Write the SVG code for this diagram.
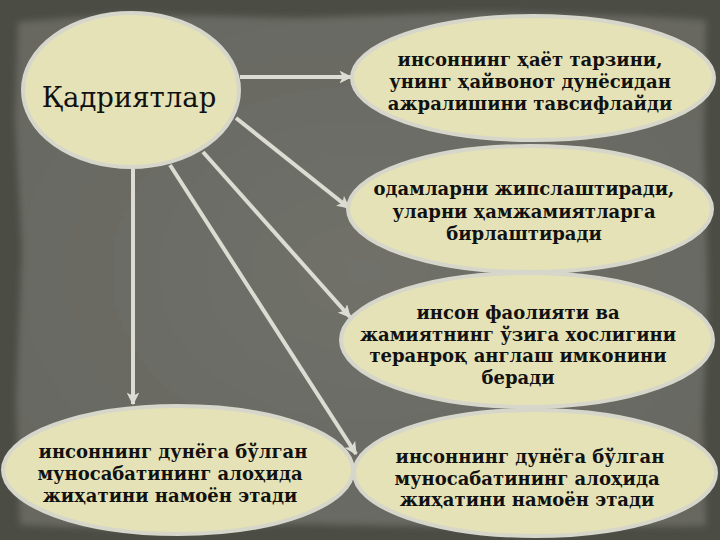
<svg xmlns="http://www.w3.org/2000/svg" width="720" height="540" viewBox="0 0 720 540">
  <defs>
    <filter id="soft" x="-5%" y="-5%" width="110%" height="110%">
      <feGaussianBlur stdDeviation="3"/>
    </filter>
    <radialGradient id="panel" cx="50%" cy="50%" r="60%">
      <stop offset="0" stop-color="#70716a"/>
      <stop offset="1" stop-color="#676861"/>
    </radialGradient>
    <marker id="arr" viewBox="0 0 10 10" refX="9" refY="5" markerWidth="3.2" markerHeight="3.2" orient="auto" markerUnits="strokeWidth">
      <path d="M0,0 L10,5 L0,10 L2.5,5 Z" fill="#dcdcd2"/>
    </marker>
    <style>
      .node ellipse { fill: #e4e2b6; stroke: #d6d6cb; stroke-width: 4; }
      .node text { font-family: "DejaVu Serif", "Liberation Serif", serif; font-weight: bold; font-size: 18px; fill: #111; text-anchor: middle; }
      .conn line { stroke: #dcdcd2; stroke-width: 4; marker-end: url(#arr); }
    </style>
  </defs>
  <rect width="720" height="540" fill="#4b4d45"/>
  <path d="M18,22 L120,14 L300,18 L480,12 L640,16 L706,20 L704,140 L708,300 L703,420 L706,526 L500,528 L300,524 L120,529 L20,525 L16,400 L22,250 L15,120 Z" fill="url(#panel)" filter="url(#soft)"/>

  <g class="conn">
    <line x1="240" y1="77" x2="351" y2="77"/>
    <line x1="236" y1="118" x2="349" y2="208"/>
    <line x1="203" y1="152" x2="350" y2="317"/>
    <line x1="170" y1="165" x2="356" y2="454"/>
    <line x1="133" y1="168" x2="133" y2="404"/>
  </g>

  <g id="node-main" class="node">
    <ellipse cx="131" cy="90" rx="108" ry="77"/>
    <text x="129" y="107" style="font-weight:normal;font-size:27.5px">Қадриятлар</text>
  </g>

  <g id="node-1" class="node">
    <ellipse cx="533" cy="78" rx="181" ry="62"/>
    <text x="530" y="66">инсоннинг ҳаёт тарзини,</text>
    <text x="530" y="88">унинг ҳайвонот дунёсидан</text>
    <text x="530" y="110">ажралишини тавсифлайди</text>
  </g>

  <g id="node-2" class="node">
    <ellipse cx="530" cy="209" rx="182" ry="63"/>
    <text x="524" y="195">одамларни жипслаштиради,</text>
    <text x="524" y="218">уларни ҳамжамиятларга</text>
    <text x="524" y="240">бирлаштиради</text>
  </g>

  <g id="node-3" class="node">
    <ellipse cx="527" cy="340" rx="186" ry="67"/>
    <text x="518" y="319">инсон фаолияти ва</text>
    <text x="518" y="341">жамиятнинг ўзига хослигини</text>
    <text x="518" y="362">теранроқ англаш имконини</text>
    <text x="518" y="384">беради</text>
  </g>

  <g id="node-4" class="node">
    <ellipse cx="535" cy="473" rx="181" ry="63"/>
    <text x="530" y="463">инсоннинг дунёга бўлган</text>
    <text x="527" y="485">муносабатининг алоҳида</text>
    <text x="527" y="506">жиҳатини намоён этади</text>
  </g>

  <g id="node-5" class="node">
    <ellipse cx="178" cy="470" rx="175" ry="64"/>
    <text x="173" y="458">инсоннинг дунёга бўлган</text>
    <text x="170" y="480">муносабатининг алоҳида</text>
    <text x="170" y="502">жиҳатини намоён этади</text>
  </g>
</svg>
